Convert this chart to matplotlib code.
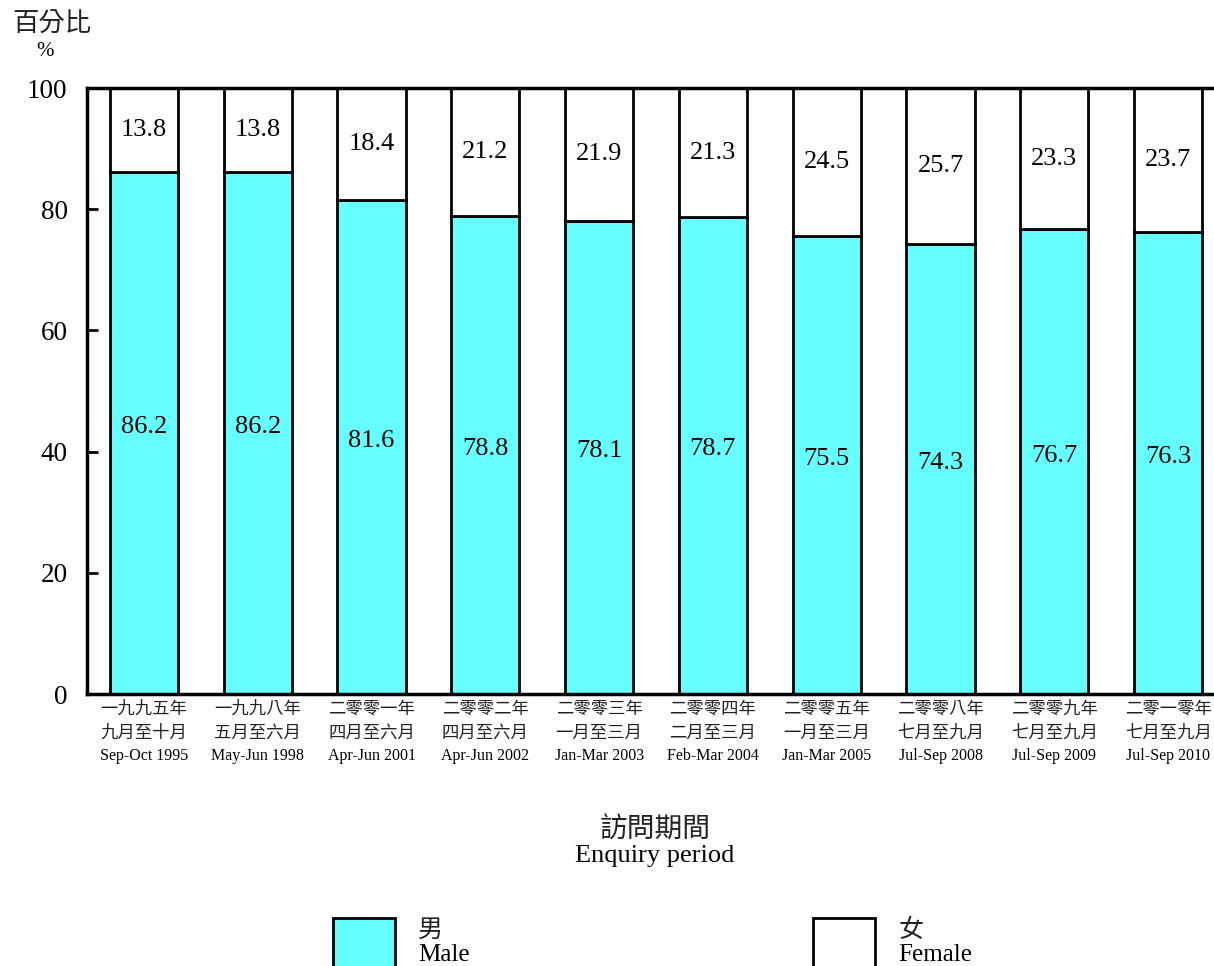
import matplotlib
matplotlib.use("Agg")
from matplotlib import pyplot as plt
from matplotlib.patches import Rectangle

plt.rcParams['font.family'] = ['Liberation Serif', 'Noto Sans CJK TC']

periods_zh_year = ["一九九五年", "一九九八年", "二零零一年", "二零零二年", "二零零三年",
                   "二零零四年", "二零零五年", "二零零八年", "二零零九年", "二零一零年"]
periods_zh_month = ["九月至十月", "五月至六月", "四月至六月", "四月至六月", "一月至三月",
                    "二月至三月", "一月至三月", "七月至九月", "七月至九月", "七月至九月"]
periods_en = ["Sep-Oct 1995", "May-Jun 1998", "Apr-Jun 2001", "Apr-Jun 2002", "Jan-Mar 2003",
              "Feb-Mar 2004", "Jan-Mar 2005", "Jul-Sep 2008", "Jul-Sep 2009", "Jul-Sep 2010"]
male = [86.2, 86.2, 81.6, 78.8, 78.1, 78.7, 75.5, 74.3, 76.7, 76.3]
female = [13.8, 13.8, 18.4, 21.2, 21.9, 21.3, 24.5, 25.7, 23.3, 23.7]

cyan = "#66ffff"

fig = plt.figure(figsize=(12.14, 9.66), dpi=100)
ax = fig.add_axes([87/1214, 272/966, 1138/1214, 606/966])

x = list(range(len(male)))
ax.bar(x, male, width=0.6, color=cyan, edgecolor="black", linewidth=2)
ax.bar(x, female, width=0.6, bottom=male, color="white", edgecolor="black", linewidth=2)

for i in x:
    ax.text(i, male[i] / 2 + 1, f"{male[i]:.1f}", ha="center", va="center", fontsize=19)
    ax.text(i, male[i] + female[i] / 2, f"{female[i]:.1f}", ha="center", va="center", fontsize=19)

ax.set_xlim(-0.5, 9.5)
ax.set_ylim(0, 100)
ax.set_yticks([0, 20, 40, 60, 80, 100])
ax.tick_params(axis="y", direction="in", length=8, width=2, labelsize=19.5, pad=14)
ax.set_xticks([])
for s in ax.spines.values():
    s.set_linewidth(2.5)

tr = ax.get_xaxis_transform()
for i in x:
    ax.text(i, -0.025, periods_zh_year[i], transform=tr, ha="center", va="center",
            fontsize=12.5, family=['Noto Sans CJK TC'], color="#222222")
    ax.text(i, -0.064, periods_zh_month[i], transform=tr, ha="center", va="center",
            fontsize=12.5, family=['Noto Sans CJK TC'], color="#222222")
    ax.text(i, -0.102, periods_en[i], transform=tr, ha="center", va="center",
            fontsize=11.5)

fig.text(12/1214, 1 - 24/966, "百分比", ha="left", va="center", fontsize=19,
         family=['Noto Sans CJK TC'], color="#222222")
fig.text(45/1214, 1 - 52/966, "%", ha="center", va="center", fontsize=15)

fig.text(655/1214, 1 - 830/966, "訪問期間", ha="center", va="center", fontsize=20,
         family=['Noto Sans CJK TC'], color="#222222")
fig.text(655/1214, 1 - 856/966, "Enquiry period", ha="center", va="center", fontsize=19)

# legend
for x0, col, zh, en in [(333, cyan, "男", "Male"), (813, "white", "女", "Female")]:
    fig.add_artist(Rectangle((x0/1214, -0.02), 62/1214, (966-918)/966 + 0.02,
                             transform=fig.transFigure, facecolor=col,
                             edgecolor="black", linewidth=2))
    fig.text((x0 + 85)/1214, 1 - 930/966, zh, ha="left", va="center", fontsize=18,
             family=['Noto Sans CJK TC'], color="#222222")
    fig.text((x0 + 85)/1214, 1 - 955/966, en, ha="left", va="center", fontsize=18)

fig.savefig("out.png", dpi=100)
